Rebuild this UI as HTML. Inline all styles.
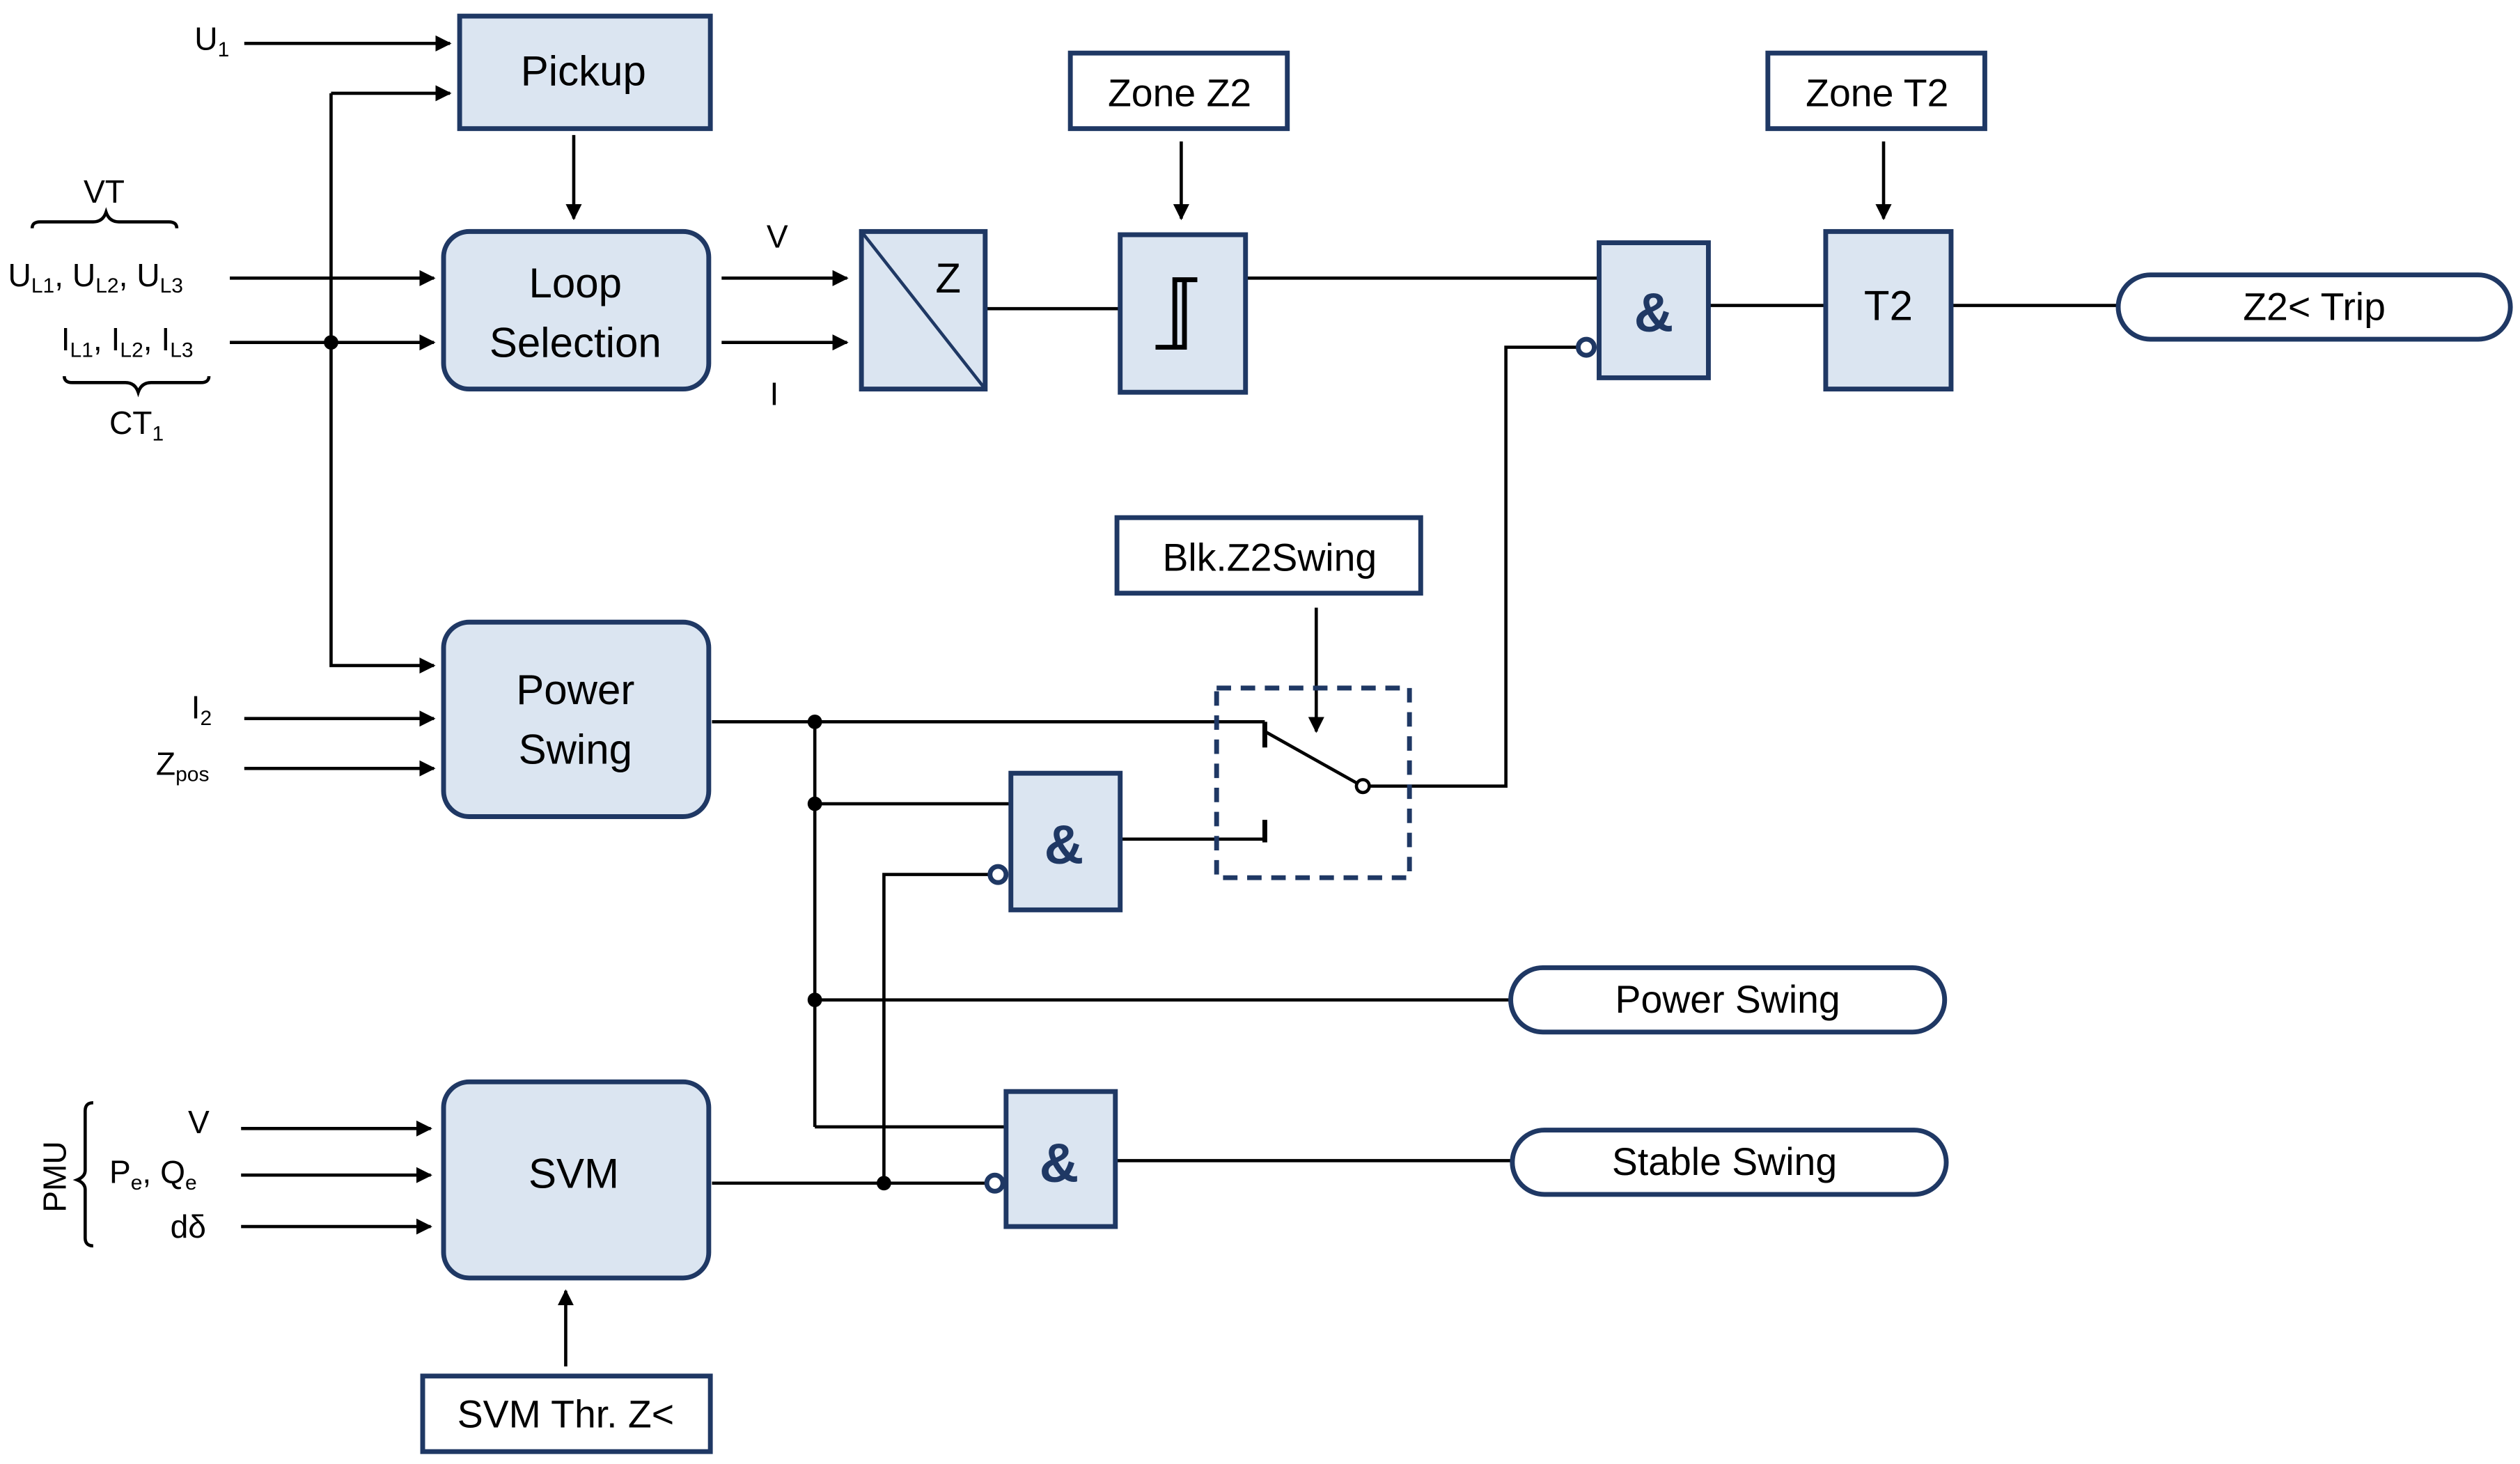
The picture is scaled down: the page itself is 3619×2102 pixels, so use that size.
<!DOCTYPE html>
<html><head><meta charset="utf-8"><style>
html,body{margin:0;padding:0;background:#fff}
svg{display:block}
text{font-family:"Liberation Sans",sans-serif}
</style></head><body>
<svg width="3619" height="2102" viewBox="0 0 1568 910.7" xmlns="http://www.w3.org/2000/svg">
<defs>
<marker id="a" viewBox="0 0 10 10" refX="9" refY="5" markerWidth="5" markerHeight="5" orient="auto"><path d="M0,0 L10,5 L0,10 z" fill="#000"/></marker>
</defs>
<g stroke="#000" stroke-width="2" fill="none">
<line x1="152" y1="27" x2="280" y2="27" marker-end="url(#a)"/>
<line x1="206" y1="58" x2="280" y2="58" marker-end="url(#a)"/>
<polyline points="206,58 206,414 270,414" marker-end="url(#a)"/>
<line x1="143" y1="173" x2="270" y2="173" marker-end="url(#a)"/>
<line x1="143" y1="213" x2="270" y2="213" marker-end="url(#a)"/>
<line x1="357" y1="84" x2="357" y2="136" marker-end="url(#a)"/>
<line x1="449" y1="173" x2="527" y2="173" marker-end="url(#a)"/>
<line x1="449" y1="213" x2="527" y2="213" marker-end="url(#a)"/>
<line x1="613" y1="192" x2="697" y2="192"/>
<line x1="735" y1="88" x2="735" y2="136" marker-end="url(#a)"/>
<line x1="775" y1="173" x2="995" y2="173"/>
<line x1="1063" y1="190" x2="1136" y2="190"/>
<line x1="1172" y1="88" x2="1172" y2="136" marker-end="url(#a)"/>
<line x1="1214" y1="190" x2="1318" y2="190"/>
<polyline points="982,216 937,216 937,489 852,489"/>
<line x1="819" y1="378" x2="819" y2="455" marker-end="url(#a)"/>
<line x1="152" y1="447" x2="270" y2="447" marker-end="url(#a)"/>
<line x1="152" y1="478" x2="270" y2="478" marker-end="url(#a)"/>
<line x1="443" y1="449" x2="787" y2="449"/>
<line x1="507" y1="449" x2="507" y2="701"/>
<line x1="507" y1="500" x2="629" y2="500"/>
<line x1="507" y1="622" x2="940" y2="622"/>
<line x1="507" y1="701" x2="626" y2="701"/>
<polyline points="616,544 550,544 550,736"/>
<line x1="443" y1="736" x2="614" y2="736"/>
<line x1="697" y1="522" x2="787" y2="522"/>
<line x1="694" y1="722" x2="941" y2="722"/>
<line x1="787" y1="449" x2="787" y2="465" stroke-width="3"/>
<line x1="787" y1="510" x2="787" y2="524" stroke-width="3"/>
<line x1="787" y1="455" x2="844" y2="487"/>
<circle cx="848" cy="489" r="4" stroke-width="2" fill="#fff"/>
<line x1="150" y1="702" x2="268" y2="702" marker-end="url(#a)"/>
<line x1="150" y1="731" x2="268" y2="731" marker-end="url(#a)"/>
<line x1="150" y1="763" x2="268" y2="763" marker-end="url(#a)"/>
<line x1="352" y1="850" x2="352" y2="803" marker-end="url(#a)"/>
<path d="M20,142 q0,-4 5,-4 h33 q6,0 8,-6 q2,6 8,6 h31 q5,0 5,4"/>
<path d="M40,234 q0,4 5,4 h33 q6,0 8,6 q2,-6 8,-6 h31 q5,0 5,-4"/>
<path d="M58,686 q-5,0 -5,5 v37 q0,4 -5,6 q5,2 5,6 v30 q0,5 5,5"/>
</g>
<g fill="#000">
<circle cx="206" cy="213" r="4.5"/>
<circle cx="507" cy="449" r="4.5"/>
<circle cx="507" cy="500" r="4.5"/>
<circle cx="507" cy="622" r="4.5"/>
<circle cx="550" cy="736" r="4.5"/>
</g>
<g stroke="#1f3864" stroke-width="3" fill="#dbe5f1">
<rect x="286" y="10" width="156" height="70"/>
<rect x="276" y="144" width="165" height="98" rx="16"/>
<rect x="536" y="144" width="77" height="98"/>
<rect x="697" y="146" width="78" height="98"/>
<rect x="995" y="151" width="68" height="84"/>
<rect x="1136" y="144" width="78" height="98"/>
<rect x="276" y="387" width="165" height="121" rx="16"/>
<rect x="629" y="481" width="68" height="85"/>
<rect x="626" y="679" width="68" height="84"/>
<rect x="276" y="673" width="165" height="122" rx="16"/>
</g>
<g stroke="#1f3864" stroke-width="3" fill="#fff">
<rect x="666" y="33" width="135" height="47"/>
<rect x="1100" y="33" width="135" height="47"/>
<rect x="695" y="322" width="189" height="47"/>
<rect x="263" y="856" width="179" height="47"/>
<rect x="1318" y="171" width="244" height="40" rx="20"/>
<rect x="940" y="602" width="270" height="40" rx="20"/>
<rect x="941" y="703" width="270" height="40" rx="20"/>
<circle cx="987" cy="216" r="5"/>
<circle cx="621" cy="544" r="5"/>
<circle cx="619" cy="736" r="5"/>
</g>
<rect x="757" y="428" width="120" height="118" fill="none" stroke="#1f3864" stroke-width="3" stroke-dasharray="9,6"/>
<line x1="536" y1="144" x2="613" y2="242" stroke="#1f3864" stroke-width="2"/>
<path d="M719,216 h12 v-42 h14 M726,216 h11 v-42" fill="none" stroke="#000" stroke-width="3"/>
<g font-size="26" text-anchor="middle" fill="#000">
<text x="363" y="53">Pickup</text>
<text x="358" y="185">Loop</text>
<text x="358" y="222">Selection</text>
<text x="590" y="182">Z</text>
<text x="358" y="438">Power</text>
<text x="358" y="475">Swing</text>
<text x="357" y="739">SVM</text>
<text x="1175" y="199">T2</text>
</g>
<g font-size="24" text-anchor="middle" fill="#000">
<text x="734" y="66">Zone Z2</text>
<text x="1168" y="66">Zone T2</text>
<text x="790" y="355">Blk.Z2Swing</text>
<text x="352" y="888">SVM Thr. Z&lt;</text>
<text x="1440" y="199">Z2&lt; Trip</text>
<text x="1075" y="630">Power Swing</text>
<text x="1073" y="731">Stable Swing</text>
</g>
<g font-size="34" font-weight="bold" text-anchor="middle" style="fill:#1f3864">
<text x="1029" y="206" style="fill:#1f3864">&amp;</text>
<text x="662" y="537" style="fill:#1f3864">&amp;</text>
<text x="659" y="735" style="fill:#1f3864">&amp;</text>
</g>
<g font-size="20" fill="#000">
<text x="121" y="31">U<tspan font-size="13" dy="4">1</tspan></text>
<text x="52" y="126">VT</text>
<text x="5" y="178">U<tspan font-size="13" dy="4">L1</tspan><tspan dy="-4">, U</tspan><tspan font-size="13" dy="4">L2</tspan><tspan dy="-4">, U</tspan><tspan font-size="13" dy="4">L3</tspan></text>
<text x="38" y="218">I<tspan font-size="13" dy="4">L1</tspan><tspan dy="-4">, I</tspan><tspan font-size="13" dy="4">L2</tspan><tspan dy="-4">, I</tspan><tspan font-size="13" dy="4">L3</tspan></text>
<text x="68" y="270">CT<tspan font-size="13" dy="4">1</tspan></text>
<text x="477" y="154">V</text>
<text x="479" y="252">I</text>
<text x="119" y="447">I<tspan font-size="13" dy="4">2</tspan></text>
<text x="97" y="482">Z<tspan font-size="13" dy="4">pos</tspan></text>
<text x="117" y="705">V</text>
<text x="68" y="736">P<tspan font-size="13" dy="4">e</tspan><tspan dy="-4">, Q</tspan><tspan font-size="13" dy="4">e</tspan></text>
<text x="106" y="770">dδ</text>
<text x="0" y="0" transform="translate(41,732) rotate(-90)" text-anchor="middle">PMU</text>
</g>
</svg>
</body></html>
